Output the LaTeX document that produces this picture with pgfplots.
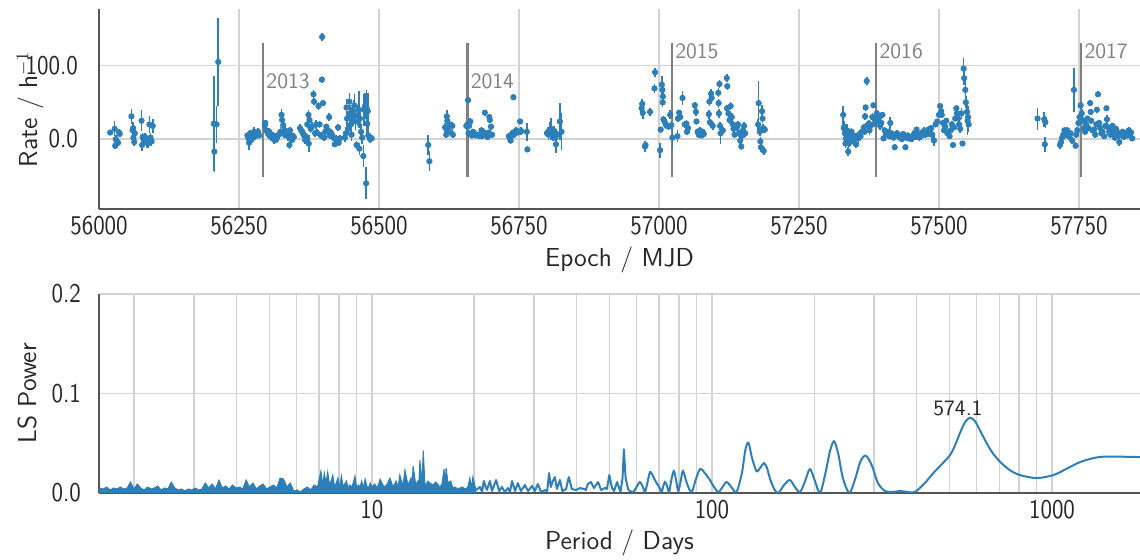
\documentclass[border=0pt]{standalone}
\usepackage{fontspec}
\usepackage{pgfplots}
\usepackage{pgfplotstable}
\pgfplotsset{compat=1.18}
\newfontfamily\tickfont{lmsans10-regular.otf}[FakeStretch=0.85]
\definecolor{dblue}{HTML}{2C7FB8}
\definecolor{gridc}{HTML}{D2D2D2}
\definecolor{txt}{HTML}{262626}
\definecolor{spine}{HTML}{555555}
\definecolor{yr}{HTML}{808080}

\pgfplotstableread{
x y e
56020 9 3
56028 14 10
56029 -9 4
56030 0 5
56032 -3 4
56034 -5 4
56036 9 5
56037 7 4
56058 31 10
56060 12 6
56061 15 8
56061.5 2 6
56063 -4 5
56064 8 5
56076 25 14
56077 -8 8
56078 3 6
56080 0 7
56082 3 6
56086 -5 7
56088 -6 6
56090 20 12
56092 2 6
56094 -3 6
56096 18 10
56205 21 65
56206 -17 28
56210 20 25
56213 105 60
56265 5 5
56267 1 6
56268 -5 10
56270 8 4
56272 -1 6
56273 3 5
56275 6 4
56277 10 6
56279 4 5
56282 8 4
56284 10 5
56286 5 4
56296 19 5
56297 22 4
56299 12 5
56301 9 4
56302 7 6
56304 10 5
56305 5 5
56307 3 6
56309 6 4
56311 1 5
56313 -1 6
56315 4 5
56316 -1 4
56318 2 5
56321 6 4
56324 10 6
56326 33 8
56327 26 6
56329 19 5
56330 7 5
56332 12 5
56335 10 4
56337 4 6
56340 -8 5
56341 12 5
56344 5 4
56345 -1 4
56348 3 5
56359 15 5
56361 12 4
56363 10 6
56364 8 5
56366 5 5
56368 -1 6
56370 3 5
56372 20 5
56374 33 6
56374.5 -6 12
56376 26 5
56378 14 6
56380 17 6
56383 61 6
56384 51 5
56386 8 5
56388 20 6
56389 9 5
56392 45 5
56394 20 5
56396 5 5
56398 81 4
56398.5 139 5
56400 49 4
56402 2 4
56404 10 4
56406 17 4
56409 12 5
56411 30 5
56412 5 5
56414 9 5
56416 6 4
56418 3 4
56420 1 4
56421 -7 4
56424 0 5
56427 16 5
56428 -5 4
56430 1 5
56439 2 6
56441 8 8
56442 43 12
56443 28 10
56445 14 8
56447 51 12
56448 35 12
56450 20 10
56451 6 8
56452 30 14
56455 38 15
56456 46 15
56458 24 12
56460 -8 6
56462 32 14
56464 40 25
56465 -13 8
56466 28 12
56468 10 10
56470 2 8
56472 -23 15
56473 40 22
56475 45 18
56477 -60 22
56478 42 25
56479 21 15
56480 38 25
56481 5 8
56484 0 5
56487 1 4
56588 -8 14
56590 -30 14
56618 16 6
56620 6 5
56621 31 8
56622 25 6
56623 11 5
56624 15 6
56626 20 8
56628 9 5
56631 18 5
56632 6 4
56656 18 5
56658 20 4
56659 53 4
56660 8 5
56661 18 4
56663 24 5
56665 7 4
56666 5 4
56668 10 4
56670 8 4
56673 5 4
56677 6 4
56680 4 4
56683 12 4
56684 4 4
56686 10 4
56689 36 4
56691 6 4
56694 3 4
56696 9 4
56697 30 4
56698 26 4
56700 17 4
56702 6 4
56732 4 5
56734 1 5
56735 -2 4
56737 5 5
56738 8 4
56740 57 3
56741 6 4
56743 10 4
56745 12 5
56748 9 4
56752 24 4
56754 11 5
56764 10 12
56765 -14 4
56800 8 5
56802 10 6
56803 6 7
56805 13 10
56807 14 15
56809 8 8
56811 3 6
56813 11 7
56815 2 8
56816 -7 12
56818 6 5
56823 24 25
56826 10 25
56969 42 10
56970 48 7
56971 36 8
56975 -10 8
56976 -8 6
56984 37 6
56992 69 6
56993 91 6
57002 -15 10
57003 13 4
57005 74 12
57006 67 8
57007 58 8
57006.5 50 6
57008 27 5
57010 24 5
57012 20 5
57014 18 4
57017 17 5
57020 33 6
57022 19 6
57024 2 15
57033 4 8
57034 28 5
57036 36 4
57038 30 4
57042 56 10
57046 20 5
57049 21 5
57050 10 4
57052 15 5
57064 46 5
57066 37 5
57067 24 4
57069 10 4
57071 6 4
57073 12 4
57074 8 4
57076 5 4
57078 10 4
57080 7 4
57089 34 6
57090 51 6
57091 23 5
57093 62 6
57094 56 6
57096 18 5
57106 63 6
57106.5 49 6
57107 35 6
57108 75 6
57109 18 5
57110 8 15
57114 12 5
57121 83 5
57121.5 42 5
57122 72 5
57124 35 5
57126 26 5
57128 45 5
57130 30 5
57132 20 5
57133 14 5
57135 6 5
57139 16 5
57141 20 5
57143 8 5
57145 -2 5
57147 -10 5
57149 5 5
57150 12 5
57152 18 5
57154 8 5
57177 20 8
57178 49 30
57180 10 6
57181 -3 6
57182 -11 6
57184 38 8
57185 28 6
57186 15 6
57187 -16 5
57189 13 5
57329 33 12
57330 15 10
57331 17 8
57332 8 8
57333 -6 6
57334 1 6
57336 12 8
57338 -17 6
57339 -6 5
57340 5 5
57341 -3 6
57343 8 5
57344 10 5
57346 -1 4
57347 -3 6
57350 3 5
57352 -7 5
57354 4 5
57356 1 6
57358 7 5
57360 4 5
57362 10 6
57366 16 5
57367 10 5
57368 31 5
57369 43 5
57371 79 5
57372 19 6
57375 21 5
57376 12 6
57378 18 5
57381 30 5
57383 46 4
57385 21 5
57387 27 4
57389 35 4
57390 28 4
57392 24 4
57394 30 4
57395 18 5
57397 22 4
57399 33 4
57401 1 4
57403 12 4
57405 8 4
57408 6 4
57410 10 4
57412 4 4
57413 22 8
57415 8 4
57417 3 4
57419 2 4
57421 -11 4
57423 5 4
57425 8 4
57427 6 4
57430 2 4
57432 4 4
57434 0 4
57436 7 4
57438 3 4
57440 -11 4
57442 2 4
57444 5 4
57446 1 4
57449 3 4
57451 0 4
57454 4 4
57456 8 4
57458 3 4
57460 13 4
57462 6 4
57465 2 4
57468 8 4
57470 5 4
57473 11 5
57476 6 4
57478 9 5
57481 13 5
57483 7 4
57486 15 4
57488 6 8
57491 -2 8
57494 20 4
57497 24 4
57500 33 4
57502 45 4
57504 38 4
57505 33 4
57507 22 4
57509 12 4
57511 17 5
57513 25 4
57515 8 4
57517 10 4
57519 4 4
57521 12 4
57523 20 4
57525 -8 4
57527 16 4
57529 28 4
57531 42 4
57532 35 5
57534 28 4
57536 20 5
57538 14 5
57540 35 8
57542 -6 4
57544 96 15
57545 83 10
57547 67 15
57548 50 8
57550 37 10
57551 25 20
57552 30 15
57553 20 10
57676 28 15
57688 27 10
57689 -7 10
57690 23 8
57716 -8 6
57718 -4 5
57720 2 5
57722 6 6
57724 12 5
57726 8 6
57729 12 5
57731 5 5
57733 3 5
57735 8 5
57738 -2 5
57741 67 30
57744 -9 5
57745 6 5
57747 12 5
57749 22 6
57751 30 6
57753 46 5
57755 35 6
57757 25 5
57759 15 5
57761 10 4
57763 20 4
57765 28 4
57767 15 4
57770 49 4
57771 37 4
57772 25 4
57774 12 4
57777 13 4
57779 6 4
57781 20 4
57782 40 4
57784 61 4
57786 22 4
57788 15 4
57790 8 4
57792 10 4
57795 4 4
57797 18 4
57799 42 4
57800 27 6
57802 16 4
57804 10 4
57806 6 4
57808 12 4
57810 18 4
57812 8 4
57814 2 4
57816 14 4
57818 10 4
57820 5 4
57822 -4 5
57825 6 4
57828 10 4
57830 3 4
57833 8 4
57836 5 4
57839 12 4
57841 6 4
57843 9 4
57845 1 4
}\lc

% periodogram, lp = log10(period / days)
\pgfplotstableread{
lp pw
0.19 0.004
0.20 0.005
0.21 0.004
0.22 0.006
0.23 0.003
0.24 0.005
0.25 0.004
0.26 0.006
0.27 0.004
0.28 0.005
0.29 0.011
0.30 0.004
0.31 0.009
0.32 0.005
0.33 0.003
0.34 0.006
0.35 0.004
0.36 0.005
0.37 0.007
0.38 0.003
0.39 0.005
0.40 0.004
0.41 0.011
0.42 0.005
0.43 0.003
0.44 0.004
0.45 0.002
0.46 0.004
0.47 0.003
0.48 0.005
0.49 0.003
0.50 0.004
0.51 0.010
0.52 0.005
0.53 0.009
0.54 0.004
0.55 0.013
0.56 0.005
0.57 0.007
0.58 0.004
0.59 0.008
0.60 0.005
0.61 0.006
0.62 0.004
0.63 0.013
0.64 0.006
0.65 0.010
0.66 0.004
0.67 0.007
0.68 0.009
0.69 0.004
0.70 0.006
0.71 0.008
0.72 0.005
0.73 0.015
0.74 0.014
0.75 0.006
0.76 0.010
0.77 0.002
0.78 0.003
0.79 0.001
0.80 0.004
0.81 0.006
0.82 0.003
0.83 0.008
0.84 0.006
0.85 0.022
0.855 0.008
0.86 0.020
0.865 0.010
0.87 0.021
0.875 0.009
0.88 0.012
0.885 0.018
0.89 0.006
0.895 0.010
0.90 0.015
0.905 0.005
0.91 0.017
0.915 0.007
0.92 0.009
0.925 0.012
0.93 0.005
0.935 0.008
0.94 0.006
0.945 0.010
0.95 0.017
0.955 0.005
0.96 0.008
0.965 0.006
0.97 0.012
0.975 0.005
0.98 0.014
0.985 0.007
0.99 0.005
0.995 0.010
1.000 0.006
1.008 0.009
1.016 0.005
1.024 0.014
1.032 0.008
1.038 0.006
1.045 0.009
1.053 0.015
1.062 0.006
1.071 0.012
1.077 0.006
1.082 0.018
1.091 0.007
1.097 0.023
1.106 0.008
1.115 0.015
1.118 0.007
1.121 0.027
1.129 0.008
1.135 0.012
1.138 0.006
1.141 0.033
1.147 0.010
1.151 0.0425
1.156 0.007
1.165 0.012
1.171 0.010
1.179 0.008
1.188 0.011
1.200 0.006
1.206 0.009
1.212 0.024
1.215 0.008
1.218 0.025
1.224 0.010
1.232 0.012
1.238 0.005
1.244 0.006
1.253 0.004
1.265 0.006
1.276 0.004
1.282 0.006
1.288 0.015
1.293 0.005
1.297 0.016
1.306 0.003
}\pgA

\pgfplotstableread{
lp pw
1.306 0.003
1.318 0.006
1.324 0.001
1.329 0.012
1.338 0.003
1.347 0.012
1.353 0.002
1.365 0.013
1.374 0.002
1.382 0.006
1.391 0.001
1.400 0.005
1.406 0.001
1.412 0.012
1.421 0.002
1.429 0.010
1.438 0.002
1.450 0.008
1.459 0.002
1.471 0.007
1.479 0.002
1.488 0.009
1.497 0.001
1.509 0.003
1.515 0.001
1.521 0.020
1.526 0.006
1.532 0.012
1.538 0.016
1.544 0.004
1.553 0.013
1.560 0.002
1.571 0.004
1.579 0.016
1.588 0.004
1.600 0.003
1.612 0.005
1.624 0.004
1.629 0.003
1.635 0.009
1.644 0.011
1.653 0.005
1.665 0.011
1.674 0.003
1.685 0.005
1.691 0.004
1.698 0.018
1.706 0.005
1.712 0.002
1.721 0.011
1.731 0.001
1.737 0.015
1.741 0.044
1.746 0.015
1.754 0.003
}\pgB

\pgfplotstableread{
lp pw
1.754 0.003
1.768 0.001
1.778 0.006
1.788 0.011
1.797 0.006
1.803 0.001
1.810 0.010
1.818 0.021
1.828 0.016
1.837 0.010
1.845 0.006
1.852 0.001
1.857 0.007
1.862 0.011
1.868 0.007
1.874 0.001
1.881 0.014
1.888 0.022
1.895 0.012
1.901 0.002
1.908 0.012
1.915 0.022
1.927 0.009
1.940 0.001
1.952 0.013
1.965 0.024
1.979 0.020
1.994 0.013
2.006 0.006
2.019 0.001
2.031 0.006
2.043 0.011
2.057 0.006
2.072 0.001
2.088 0.020
2.098 0.043
2.107 0.0506
2.118 0.035
2.131 0.022
2.141 0.025
2.153 0.030
2.162 0.025
2.171 0.014
2.183 0.004
2.195 0.000
2.212 0.008
2.229 0.013
2.244 0.006
2.259 0.001
2.274 0.012
2.288 0.024
2.303 0.012
2.318 0.000
2.335 0.022
2.347 0.042
2.359 0.052
2.371 0.040
2.385 0.015
2.404 0.000
2.421 0.014
2.437 0.032
2.453 0.0375
2.471 0.027
2.488 0.010
2.509 0.002
2.532 0.001
2.553 0.002
2.576 0.001
2.597 0.001
2.626 0.010
2.651 0.020
2.676 0.029
2.700 0.038
2.715 0.048
2.729 0.060
2.744 0.071
2.759 0.0757
2.774 0.072
2.788 0.063
2.808 0.050
2.826 0.040
2.847 0.0315
2.876 0.023
2.906 0.018
2.955 0.015
3.004 0.018
3.041 0.024
3.082 0.031
3.121 0.035
3.151 0.0365
3.200 0.0365
3.270 0.036
}\pgC

\begin{document}
\begin{tikzpicture}
\path[use as bounding box] (0,0) rectangle (570pt,280pt);
\pgfplotsset{
  mystyle/.style={
    scale only axis,
    axis x line*=bottom, axis y line*=left,
    axis line style={-, draw=spine, line width=0.8pt},
    major tick length=0pt, minor tick length=0pt,
    tick style={draw=none},
    scaled x ticks=false, scaled y ticks=false,
    grid style={draw=gridc, line width=0.8pt},
    minor grid style={draw=gridc, line width=0.8pt},
    tick label style={font=\tickfont\fontsize{13.5}{14}\selectfont, text=txt},
    label style={font=\sffamily\fontsize{13}{14}\selectfont, text=txt},
  }
}
\begin{axis}[mystyle,
  at={(49.5pt,175.5pt)}, anchor=south west,
  width=520.5pt, height=100pt,
  xmin=56000, xmax=57859, ymin=-95, ymax=177,
  xtick={56000,56250,56500,56750,57000,57250,57500,57750},
  xticklabels={56000,56250,56500,56750,57000,57250,57500,57750},
  ytick={0,100}, yticklabels={0.0,100.0},
  grid=major,
  yticklabel style={xshift=-7pt},
  xlabel={Epoch / MJD},
  ylabel={Rate / h$^{-1}$},
  xlabel style={at={(axis description cs:0.5,-0.255)}, anchor=center},
  ylabel style={at={(axis description cs:-0.066,0.5)}, anchor=center},
]
\addplot[yr, line width=1.2pt] coordinates {(56293,-51) (56293,131)};
\addplot[yr, line width=1.2pt] coordinates {(56658,-51) (56658,131)};
\addplot[yr, line width=1.2pt] coordinates {(57023,-51) (57023,131)};
\addplot[yr, line width=1.2pt] coordinates {(57388,-51) (57388,131)};
\addplot[yr, line width=1.2pt] coordinates {(57754,-51) (57754,131)};
\addplot[only marks, mark=*, mark size=1.35pt, color=dblue,
  error bars/.cd, y dir=both, y explicit,
  error bar style={line width=0.8pt, dblue}, error mark=none]
  table[x=x, y=y, y error=e] {\lc};
\begin{scope}[font=\sffamily\fontsize{11}{12}\selectfont, text=yr]
\node[anchor=west, inner sep=1.5pt] at (axis cs:56293,78) {2013};
\node[anchor=west, inner sep=1.5pt] at (axis cs:56658,79) {2014};
\node[anchor=west, inner sep=1.5pt] at (axis cs:57023,119) {2015};
\node[anchor=west, inner sep=1.5pt] at (axis cs:57388,119) {2016};
\node[anchor=west, inner sep=1.5pt] at (axis cs:57754,119) {2017};
\end{scope}
\end{axis}

\begin{axis}[mystyle,
  at={(49.5pt,33.5pt)}, anchor=south west,
  width=520.5pt, height=99.5pt,
  xmode=log, xmin=1.575, xmax=1815, ymin=0, ymax=0.2,
  log basis x=10,
  xtick={10,100,1000}, xticklabels={10,100,1000},
  minor xtick={2,3,4,5,6,7,8,9,20,30,40,50,60,70,80,90,200,300,400,500,600,700,800,900},
  ytick={0,0.1,0.2}, yticklabels={0.0,0.1,0.2},
  grid=both,
  yticklabel style={xshift=-5.5pt},
  xlabel={Period / Days},
  ylabel={LS Power},
  xlabel style={at={(axis description cs:0.5,-0.251)}, anchor=center},
  ylabel style={at={(axis description cs:-0.069,0.5)}, anchor=center},
]
\addplot[draw=dblue, fill=dblue, line width=0.5pt] table[x expr={10^(\thisrow{lp})}, y=pw] {\pgA} \closedcycle;
\addplot[draw=dblue, line width=1pt, line join=round] table[x expr={10^(\thisrow{lp})}, y=pw] {\pgB};
\addplot[draw=dblue, line width=1pt, smooth, tension=0.5] table[x expr={10^(\thisrow{lp})}, y=pw] {\pgC};
\node[font=\sffamily\fontsize{11}{12}\selectfont, text=txt] at (axis cs:529,0.0854) {574.1};
\end{axis}
\end{tikzpicture}
\end{document}
